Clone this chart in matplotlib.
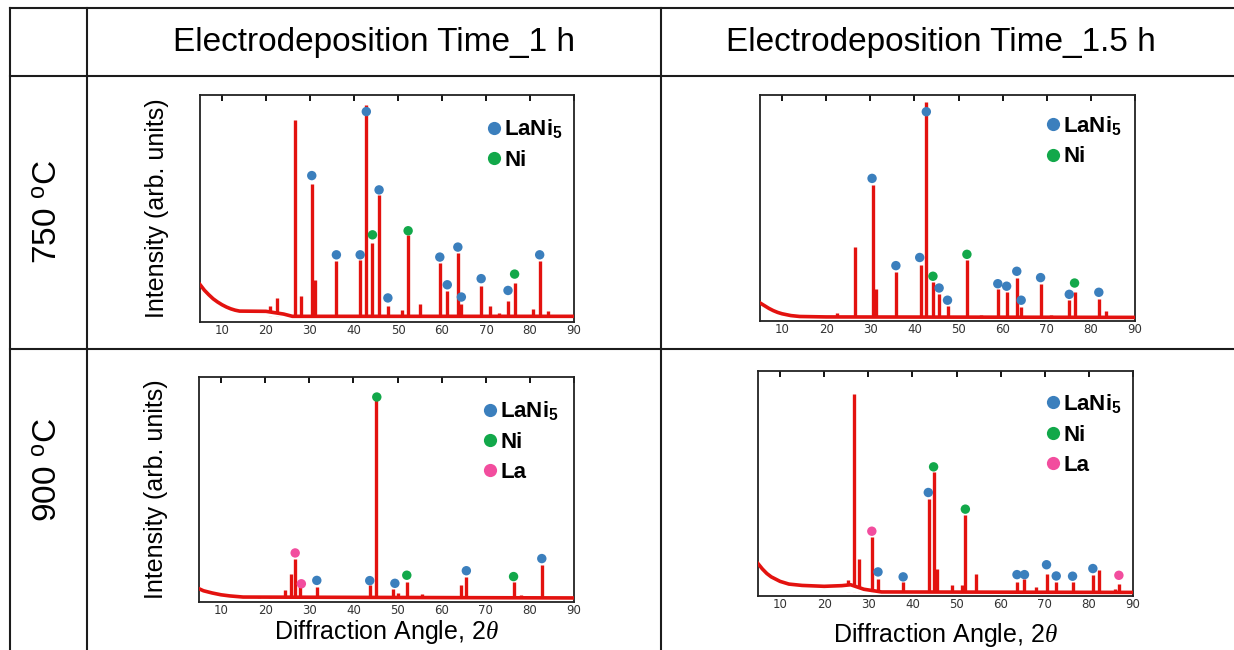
import numpy as np
import matplotlib
matplotlib.use('Agg')
import matplotlib.pyplot as plt
from matplotlib.lines import Line2D

# values: 2theta (deg) and intensity (% of panel height)
xticks = [10, 20, 30, 40, 50, 60, 70, 80, 90]
xtick_labels = ['10', '20', '30', '40', '50', '60', '70', '80', '90']

# 750 C, 1 h
tl_bg_x = [5, 6, 7, 8, 9, 10, 11, 12, 13, 14, 20, 24, 26, 90]
tl_bg_y = [16.5, 14.0, 12.0, 10.2, 8.8, 7.6, 6.6, 5.8, 5.2, 4.8, 4.7, 3.5, 2.5, 2.5]
tl_base = 2.5
tl_peak_x = [21.0, 22.5, 26.7, 27.9, 30.5, 31.2, 36.0, 41.4, 42.8, 44.2, 45.7, 47.7, 50.8, 52.3,
             54.9, 59.5, 61.2, 63.6, 64.4, 68.9, 70.8, 73.0, 75.0, 76.5, 80.7, 82.2, 84.0]
tl_peak_y = [6.9, 10.6, 89.0, 11.3, 61.0, 18.6, 26.7, 27.4, 95.6, 34.8, 56.0, 6.9, 5.4, 38.4,
             8.1, 26.0, 13.5, 30.4, 8.1, 15.7, 6.9, 4.0, 9.1, 17.2, 5.7, 26.7, 4.7]
tl_lani5_x = [30.4, 36.0, 41.4, 42.8, 45.7, 47.7, 59.5, 61.2, 63.6, 64.4, 68.9, 75.0, 82.2]
tl_lani5_y = [64.5, 29.6, 29.6, 92.7, 58.2, 10.6, 28.6, 16.4, 33.0, 11.0, 19.1, 13.9, 29.6]
tl_ni_x = [44.2, 52.3, 76.5]
tl_ni_y = [38.4, 40.2, 21.1]

# 750 C, 1.5 h
tr_bg_x = [5, 6, 7, 8, 9, 10, 12, 14, 20, 90]
tr_bg_y = [8.0, 6.8, 5.6, 4.6, 3.8, 3.2, 2.4, 2.0, 1.8, 1.6]
tr_base = 1.6
tr_peak_x = [22.5, 26.6, 30.6, 31.2, 35.8, 41.5, 42.7, 44.2, 45.6, 47.5, 51.9, 55.0, 58.9, 60.9,
             63.2, 64.2, 68.6, 71.0, 75.1, 76.3, 81.8, 83.5, 87.0]
tr_peak_y = [3.5, 32.8, 60.1, 14.3, 21.7, 24.7, 97.0, 17.3, 12.1, 6.5, 26.9, 2.8, 14.3, 12.9,
             19.2, 6.2, 16.2, 2.8, 9.2, 12.9, 9.9, 4.4, 2.2]
tr_lani5_x = [30.4, 35.8, 41.2, 42.7, 45.6, 47.5, 58.9, 60.9, 63.2, 64.2, 68.6, 75.1, 81.8]
tr_lani5_y = [63.1, 24.5, 28.1, 92.6, 14.6, 9.2, 16.5, 15.4, 22.0, 9.2, 19.2, 11.8, 12.7]
tr_ni_x = [44.2, 51.9, 76.3]
tr_ni_y = [19.8, 29.5, 16.8]

# 900 C, 1 h
bl_bg_x = [5, 6, 8, 10, 12, 15, 90]
bl_bg_y = [5.9, 5.0, 4.0, 3.2, 2.7, 2.2, 1.8]
bl_base = 1.8
bl_peak_x = [18.5, 21.0, 24.4, 25.9, 26.8, 27.8, 31.7, 43.8, 45.2, 49.0, 50.0, 52.1, 55.5,
             64.3, 65.6, 76.3, 78.0, 82.7, 86.0]
bl_peak_y = [2.7, 2.8, 5.2, 12.6, 19.3, 7.4, 6.7, 7.4, 90.4, 5.9, 4.0, 8.9, 3.4,
             7.4, 11.1, 8.9, 2.9, 16.3, 2.4]
bl_lani5_x = [31.7, 43.7, 49.4, 65.6, 82.7]
bl_lani5_y = [9.6, 9.5, 8.3, 13.9, 19.3]
bl_ni_x = [45.3, 52.1, 76.3]
bl_ni_y = [91.1, 11.9, 11.3]
bl_la_x = [26.8, 28.2]
bl_la_y = [21.8, 8.1]

# 900 C, 1.5 h
br_bg_x = [5, 6, 7, 8, 10, 12, 15, 20, 24, 26, 29, 33, 90]
br_bg_y = [14.4, 12.0, 10.0, 8.5, 6.5, 5.3, 4.7, 4.3, 4.6, 5.0, 3.0, 1.8, 1.6]
br_base = 1.6
br_peak_x = [25.4, 26.7, 27.8, 30.8, 32.2, 37.9, 43.8, 44.8, 45.6, 49.0, 51.2, 52.0, 54.5,
             63.7, 65.4, 68.0, 70.4, 72.6, 76.3, 80.9, 82.4, 86.0, 86.8]
br_peak_y = [7.0, 90.0, 16.6, 26.3, 7.7, 6.2, 43.3, 55.2, 12.2, 4.7, 4.7, 35.9, 9.9,
             6.2, 7.7, 4.0, 9.9, 6.2, 6.2, 9.5, 11.4, 3.3, 5.5]
br_lani5_x = [32.2, 37.9, 43.6, 63.7, 65.4, 70.4, 72.6, 76.3, 80.9]
br_lani5_y = [10.7, 8.5, 46.0, 9.5, 9.5, 13.9, 8.9, 8.8, 12.2]
br_ni_x = [44.8, 52.0]
br_ni_y = [57.4, 38.6]
br_la_x = [30.8, 86.8]
br_la_y = [28.8, 9.2]

col_titles = ['Electrodeposition Time_1 h', 'Electrodeposition Time_1.5 h']
row_titles = ['750 $^{\\mathrm{o}}$C', '900 $^{\\mathrm{o}}$C']

W, H = 1234, 650
RED = '#e3120f'
BLUE = '#3b7fbd'
GREEN = '#12a84a'
PINK = '#f24d9e'
LINE = '#1c1c1c'

plt.rcParams['font.family'] = ['Liberation Sans', 'DejaVu Sans']
plt.rcParams['mathtext.fontset'] = 'custom'
plt.rcParams['mathtext.rm'] = 'Liberation Sans'
plt.rcParams['mathtext.it'] = 'Liberation Serif:italic'
plt.rcParams['mathtext.bf'] = 'Liberation Sans:bold'


def px_rect(l, t, r, b):
    return [l / W, 1 - b / H, (r - l) / W, (b - t) / H]


def draw_panel(ax, bg_x, bg_y, base, pk_x, pk_y, phases, leg_anchor):
    ax.vlines(pk_x, base, pk_y, color=RED, lw=2.4, zorder=2)
    ax.fill_between(bg_x, base, bg_y, color='white', lw=0, zorder=2.4)
    ax.plot(bg_x, bg_y, color=RED, lw=2.6, zorder=3, solid_joinstyle='round')
    handles = []
    for label, xs, ys, c in phases:
        ax.scatter(xs, ys, s=46, color=c, edgecolors='none', zorder=4)
        handles.append(Line2D([], [], ls='none', marker='o', ms=9.5, color=c,
                              markeredgewidth=0, label=label))
    ax.legend(handles=handles, loc='upper right', bbox_to_anchor=leg_anchor,
              frameon=False, handlelength=0.6, handletextpad=0.15, borderpad=0,
              labelspacing=0.42, prop={'weight': 'bold', 'size': 16})
    ax.set_xlim(5, 90)
    ax.set_ylim(0, 100)
    ax.set_yticks([])
    ax.set_xticks(xticks)
    ax.set_xticklabels(xtick_labels, fontfamily='DejaVu Sans', fontsize=8.5, color='#333333')
    ax.tick_params(axis='x', direction='in', top=True, bottom=False, length=4, width=1.3, pad=1.5)
    for s in ax.spines.values():
        s.set_linewidth(1.3)
        s.set_color('#222222')


def main():
    fig = plt.figure(figsize=(W / 100, H / 100), dpi=100)

    lani5 = 'LaNi$_{\\mathbf{5}}$'
    ax_tl = fig.add_axes(px_rect(200, 95, 574, 322))
    draw_panel(ax_tl, tl_bg_x, tl_bg_y, tl_base, tl_peak_x, tl_peak_y,
               [(lani5, tl_lani5_x, tl_lani5_y, BLUE), ('Ni', tl_ni_x, tl_ni_y, GREEN)],
               (1.0, 0.95))
    ax_tr = fig.add_axes(px_rect(760, 95, 1135, 321))
    draw_panel(ax_tr, tr_bg_x, tr_bg_y, tr_base, tr_peak_x, tr_peak_y,
               [(lani5, tr_lani5_x, tr_lani5_y, BLUE), ('Ni', tr_ni_x, tr_ni_y, GREEN)],
               (0.995, 0.965))
    ax_bl = fig.add_axes(px_rect(199, 377, 574, 602))
    draw_panel(ax_bl, bl_bg_x, bl_bg_y, bl_base, bl_peak_x, bl_peak_y,
               [(lani5, bl_lani5_x, bl_lani5_y, BLUE), ('Ni', bl_ni_x, bl_ni_y, GREEN),
                ('La', bl_la_x, bl_la_y, PINK)],
               (0.99, 0.95))
    ax_br = fig.add_axes(px_rect(758, 371, 1133, 596))
    draw_panel(ax_br, br_bg_x, br_bg_y, br_base, br_peak_x, br_peak_y,
               [(lani5, br_lani5_x, br_lani5_y, BLUE), ('Ni', br_ni_x, br_ni_y, GREEN),
                ('La', br_la_x, br_la_y, PINK)],
               (1.0, 0.955))

    for ax in (ax_tl, ax_bl):
        ax.set_ylabel('Intensity (arb. units)', fontsize=18, labelpad=22)
    ax_bl.set_xlabel('Diffraction Angle, 2$\\theta$', fontsize=18, labelpad=1)
    ax_br.set_xlabel('Diffraction Angle, 2$\\theta$', fontsize=18, labelpad=7)

    # table grid
    segs = [((10, 8), (1234, 8)), ((10, 76), (1234, 76)), ((10, 349), (1234, 349)),
            ((10, 8), (10, 650)), ((87, 8), (87, 650)), ((661, 8), (661, 650))]
    for (x0, y0), (x1, y1) in segs:
        fig.add_artist(Line2D([x0 / W, x1 / W], [1 - y0 / H, 1 - y1 / H],
                              transform=fig.transFigure, color=LINE, lw=1.5))

    fig.text(374 / W, 1 - 42 / H, col_titles[0], ha='center', va='center', fontsize=24)
    fig.text(941 / W, 1 - 42 / H, col_titles[1], ha='center', va='center', fontsize=24)
    fig.text(48 / W, 1 - 212 / H, row_titles[0], ha='center', va='center', rotation=90, fontsize=24)
    fig.text(48 / W, 1 - 470 / H, row_titles[1], ha='center', va='center', rotation=90, fontsize=24)

    fig.savefig('out.png', dpi=100)
    plt.close(fig)


if __name__ == '__main__':
    main()
